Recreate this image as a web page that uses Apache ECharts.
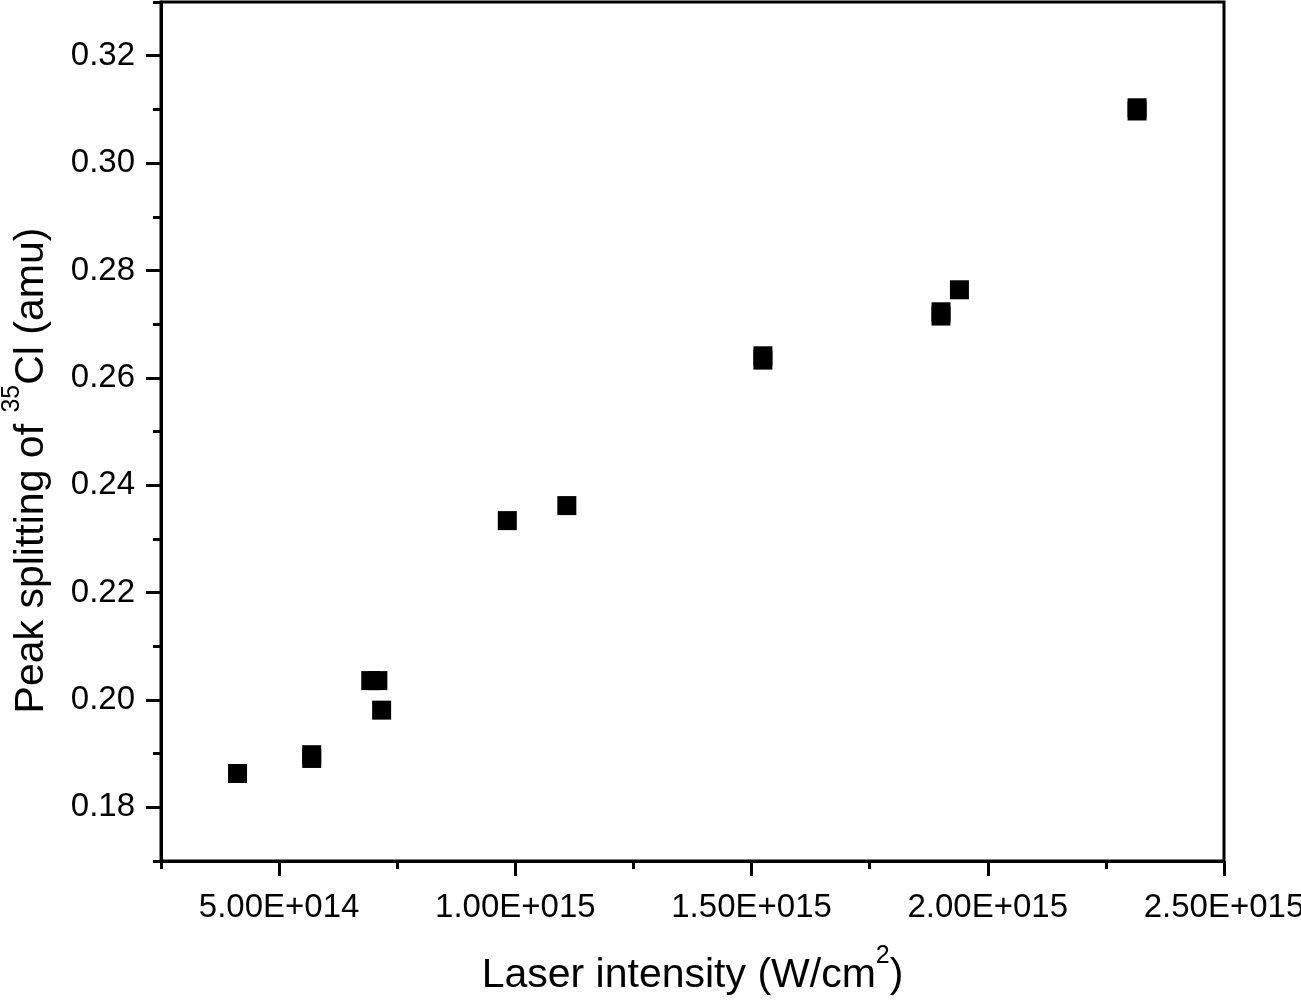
<!DOCTYPE html>
<html>
<head>
<meta charset="utf-8">
<script src="https://cdn.jsdelivr.net/npm/echarts@6/dist/echarts.min.js"></script>
<style>
html,body{margin:0;padding:0;background:#fff;}
#chart{width:1301px;height:1000px;}
</style>
</head>
<body>
<div id="chart"></div>
<script>
// Data
const intensity = [4.12e14, 5.69e14, 5.69e14, 6.94e14, 7.09e14, 7.17e14, 9.83e14, 1.109e15, 1.524e15, 1.524e15, 1.901e15, 1.901e15, 1.940e15, 2.316e15, 2.316e15];
const splitting = [0.1863, 0.1898, 0.1891, 0.2036, 0.2036, 0.1981, 0.2334, 0.2362, 0.2641, 0.2633, 0.2723, 0.2715, 0.2764, 0.3103, 0.3097];
const xMajorTicks = [5e14, 1e15, 1.5e15, 2e15, 2.5e15];
const yMajorTicks = [0.18, 0.20, 0.22, 0.24, 0.26, 0.28, 0.30, 0.32];

const points = intensity.map((x, i) => [x, splitting[i]]);
const FONT = '"Liberation Sans", Arial, Helvetica, sans-serif';

function sci(v) {
  const e = Math.floor(Math.log10(v) + 1e-9);
  const m = v / Math.pow(10, e);
  return m.toFixed(2) + 'E+' + String(e).padStart(3, '0');
}

const supStyle = {fontSize: 25, lineHeight: 25, padding: [0, 0, 30, 0], verticalAlign: 'bottom', color: '#000', fontFamily: FONT};

const chart = echarts.init(document.getElementById('chart'), null, {renderer: 'canvas'});

chart.setOption({
  animation: false,
  backgroundColor: '#fff',
  grid: {left: 161, right: 77, top: 2, bottom: 139, outerBoundsMode: 'none', containLabel: false,
         show: true, borderColor: '#000', borderWidth: 3, backgroundColor: 'transparent'},
  xAxis: [
    {
      type: 'value', position: 'bottom', min: 2.5e14, max: 2.5e15,
      splitLine: {show: false},
      axisLine: {show: true, lineStyle: {color: '#000', width: 3}},
      axisTick: {show: true, customValues: xMajorTicks, length: 15, lineStyle: {color: '#000', width: 3}},
      axisLabel: {customValues: xMajorTicks, formatter: sci, fontSize: 33, color: '#000', fontFamily: FONT, margin: 30},
      name: 'Laser intensity (W/cm{sup|2})',
      nameLocation: 'middle', nameGap: 92,
      nameTextStyle: {fontSize: 41, color: '#000', fontFamily: FONT, lineHeight: 46, rich: {sup: supStyle}}
    },
    {
      type: 'value', position: 'bottom', min: 2.5e14, max: 2.5e15, interval: 2.5e14,
      splitLine: {show: false},
      axisLine: {show: false},
      axisTick: {show: true, length: 8, lineStyle: {color: '#000', width: 3}},
      axisLabel: {show: false}
    }
  ],
  yAxis: [
    {
      type: 'value', position: 'left', min: 0.17, max: 0.33,
      splitLine: {show: false},
      axisLine: {show: true, lineStyle: {color: '#000', width: 3}},
      axisTick: {show: true, customValues: yMajorTicks, length: 15, lineStyle: {color: '#000', width: 3}},
      axisLabel: {customValues: yMajorTicks, formatter: v => v.toFixed(2), fontSize: 33, color: '#000', fontFamily: FONT, margin: 26},
      name: 'Peak splitting of {sup|35}Cl (amu)',
      nameLocation: 'middle', nameGap: 106, nameRotate: 90,
      nameTextStyle: {fontSize: 41, color: '#000', fontFamily: FONT, lineHeight: 46, padding: [0, 78, 0, 0], rich: {sup: supStyle}}
    },
    {
      type: 'value', position: 'left', min: 0.17, max: 0.33, interval: 0.01,
      splitLine: {show: false},
      axisLine: {show: false},
      axisTick: {show: true, length: 8, lineStyle: {color: '#000', width: 3}},
      axisLabel: {show: false}
    }
  ],
  series: [{
    type: 'scatter',
    xAxisIndex: 0, yAxisIndex: 0,
    data: points,
    symbol: 'rect',
    symbolSize: 19,
    itemStyle: {color: '#000', opacity: 1}
  }]
});
</script>
</body>
</html>
